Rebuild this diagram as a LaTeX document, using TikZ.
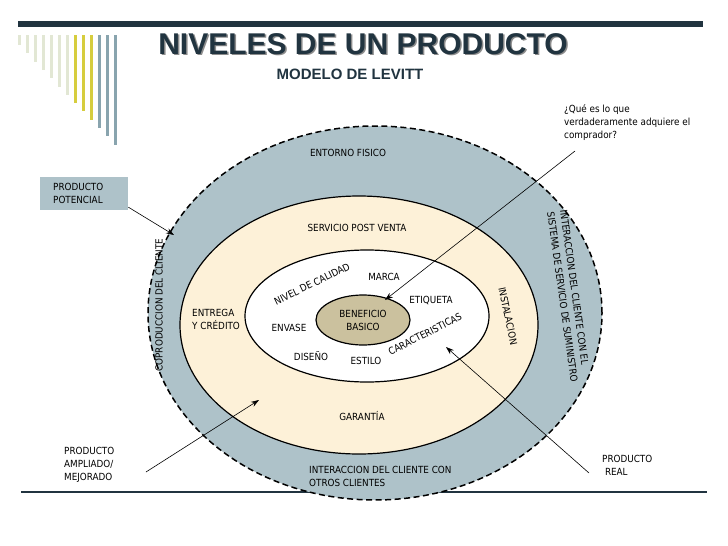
\documentclass[tikz,border=0pt]{standalone}
\usepackage{fontspec}
\newfontfamily\labelfont{DejaVu Sans Condensed}
\newfontfamily\titlefont{Liberation Sans}
\usetikzlibrary{arrows.meta,positioning,shapes.geometric}
\definecolor{ringblue}{RGB}{174,194,201}
\definecolor{ringcream}{RGB}{253,241,216}
\definecolor{corekhaki}{RGB}{203,193,158}
\definecolor{bardark}{RGB}{33,52,64}
\definecolor{stripepale}{RGB}{226,231,212}
\definecolor{stripeyellow}{RGB}{214,205,62}
\definecolor{stripeblue}{RGB}{137,164,174}

\begin{document}
\begin{tikzpicture}[
  x=1pt, y=-1pt,
  ring/.style={ellipse, draw=black, line width=1.2pt, inner sep=0pt},
  lbl/.style={inner sep=0pt, align=center,
    font=\labelfont\fontsize{9.8}{13}\selectfont},
  lblleft/.style={lbl, align=left, anchor=west},
  arr/.style={-{Stealth[length=8pt, width=5.5pt]}, line width=0.6pt}
]
  \useasboundingbox (0,0) rectangle (728,546);
  \fill[white] (0,0) rectangle (728,546);

  % Header stripes and rules
  \foreach \i/\col in {0/stripepale, 1/stripepale, 2/stripepale, 3/stripepale,
      4/stripepale, 5/stripepale, 6/stripepale, 7/stripeyellow, 8/stripeyellow,
      9/stripeyellow, 10/stripeblue, 11/stripeblue, 12/stripeblue} {
    \fill[\col] (17.6+8*\i,35) rectangle (21.4+8*\i,45+8.3*\i);
  }
  \fill[bardark] (18,21) rectangle (703,27);
  \draw[bardark, line width=1.5pt] (21,492) -- (707,492);

  % Title
  \node[text=black!45, font=\titlefont\bfseries\fontsize{30}{31}\selectfont]
    (titleshadow) at (364.5,45.5) {NIVELES DE UN PRODUCTO};
  \node[text=bardark, font=\titlefont\bfseries\fontsize{30}{31}\selectfont]
    (title) at (363,44) {NIVELES DE UN PRODUCTO};
  \node[text=bardark, font=\titlefont\bfseries\fontsize{15}{16}\selectfont]
    (subtitle) at (350,74) {MODELO DE LEVITT};

  % Levels of the product
  \node[ring, draw=black, line width=1.5pt, dash pattern=on 6pt off 3.5pt,
    fill=ringblue, minimum width=454pt, minimum height=374pt] (outerring) at (375,313) {};
  \node[ring, fill=ringcream, minimum width=358pt, minimum height=258pt] (midring) at (359,325) {};
  \node[ring, fill=white, minimum width=244pt, minimum height=132pt] (innerring) at (367,316) {};
  \node[ring, fill=corekhaki, minimum width=94pt, minimum height=50pt,
    lbl] (core) at (363,320) {BENEFICIO\\BASICO};

  % Outer ring labels
  \node[lbl] (entorno) at (348,153) {ENTORNO FISICO};
  \node[lbl, rotate=90] (coproduccion) at (159,305) {COPRODUCCION DEL CLIENTE};
  \node[lbl, align=left, rotate=-82] (sistema) at (569,296)
    {INTERACCION DEL CLIENTE CON EL\\SISTEMA DE SERVICIO DE SUMINISTRO};
  \node[lblleft] (otros) at (309,476) {INTERACCION DEL CLIENTE CON\\OTROS CLIENTES};

  % Middle ring labels
  \node[lbl] (postventa) at (357,228) {SERVICIO POST VENTA};
  \node[lblleft] (entrega) at (192,319) {ENTREGA\\Y CRÉDITO};
  \node[lbl, rotate=-78] (instalacion) at (508,316) {INSTALACION};
  \node[lbl] (garantia) at (362,416) {GARANTÍA};

  % Inner ring labels
  \node[lbl, rotate=26] (calidad) at (312,284) {NIVEL DE CALIDAD};
  \node[lbl] (marca) at (384,277) {MARCA};
  \node[lbl] (etiqueta) at (431,300) {ETIQUETA};
  \node[lbl] (envase) at (289,328) {ENVASE};
  \node[lbl] (diseno) at (311,356) {DISEÑO};
  \node[lbl] (estilo) at (366,361) {ESTILO};
  \node[lbl, rotate=27] (caracteristicas) at (425,334) {CARACTERISTICAS};

  % Callouts
  \node[lblleft] (pregunta) at (564,123)
    {¿Qué es lo que\\verdaderamente adquiere el\\comprador?};
  \node[lblleft, fill=ringblue, minimum width=88pt, minimum height=33pt,
    text width=76pt, inner sep=0pt] (potencial) at (40,193.5)
    {\hspace*{7pt}PRODUCTO\\\hspace*{7pt}POTENCIAL};
  \node[lblleft] (ampliado) at (64,465) {PRODUCTO\\AMPLIADO/\\MEJORADO};
  \node[lblleft] (real) at (602,465) {PRODUCTO\\\ REAL};

  \coordinate (preguntaStart) at (575,151);
  \coordinate (coreTip) at (385,300);
  \coordinate (potencialTip) at (174,235);
  \coordinate (ampliadoStart) at (146,472);
  \coordinate (ampliadoTip) at (259,400);
  \coordinate (realStart) at (589,473);
  \coordinate (realTip) at (446,347);

  % Arrows
  \draw[arr] (preguntaStart) -- (coreTip);
  \draw[arr] ([yshift=3pt]potencial.south east) -- (potencialTip);
  \draw[arr] (ampliadoStart) -- (ampliadoTip);
  \draw[arr] (realStart) -- (realTip);
\end{tikzpicture}
\end{document}
